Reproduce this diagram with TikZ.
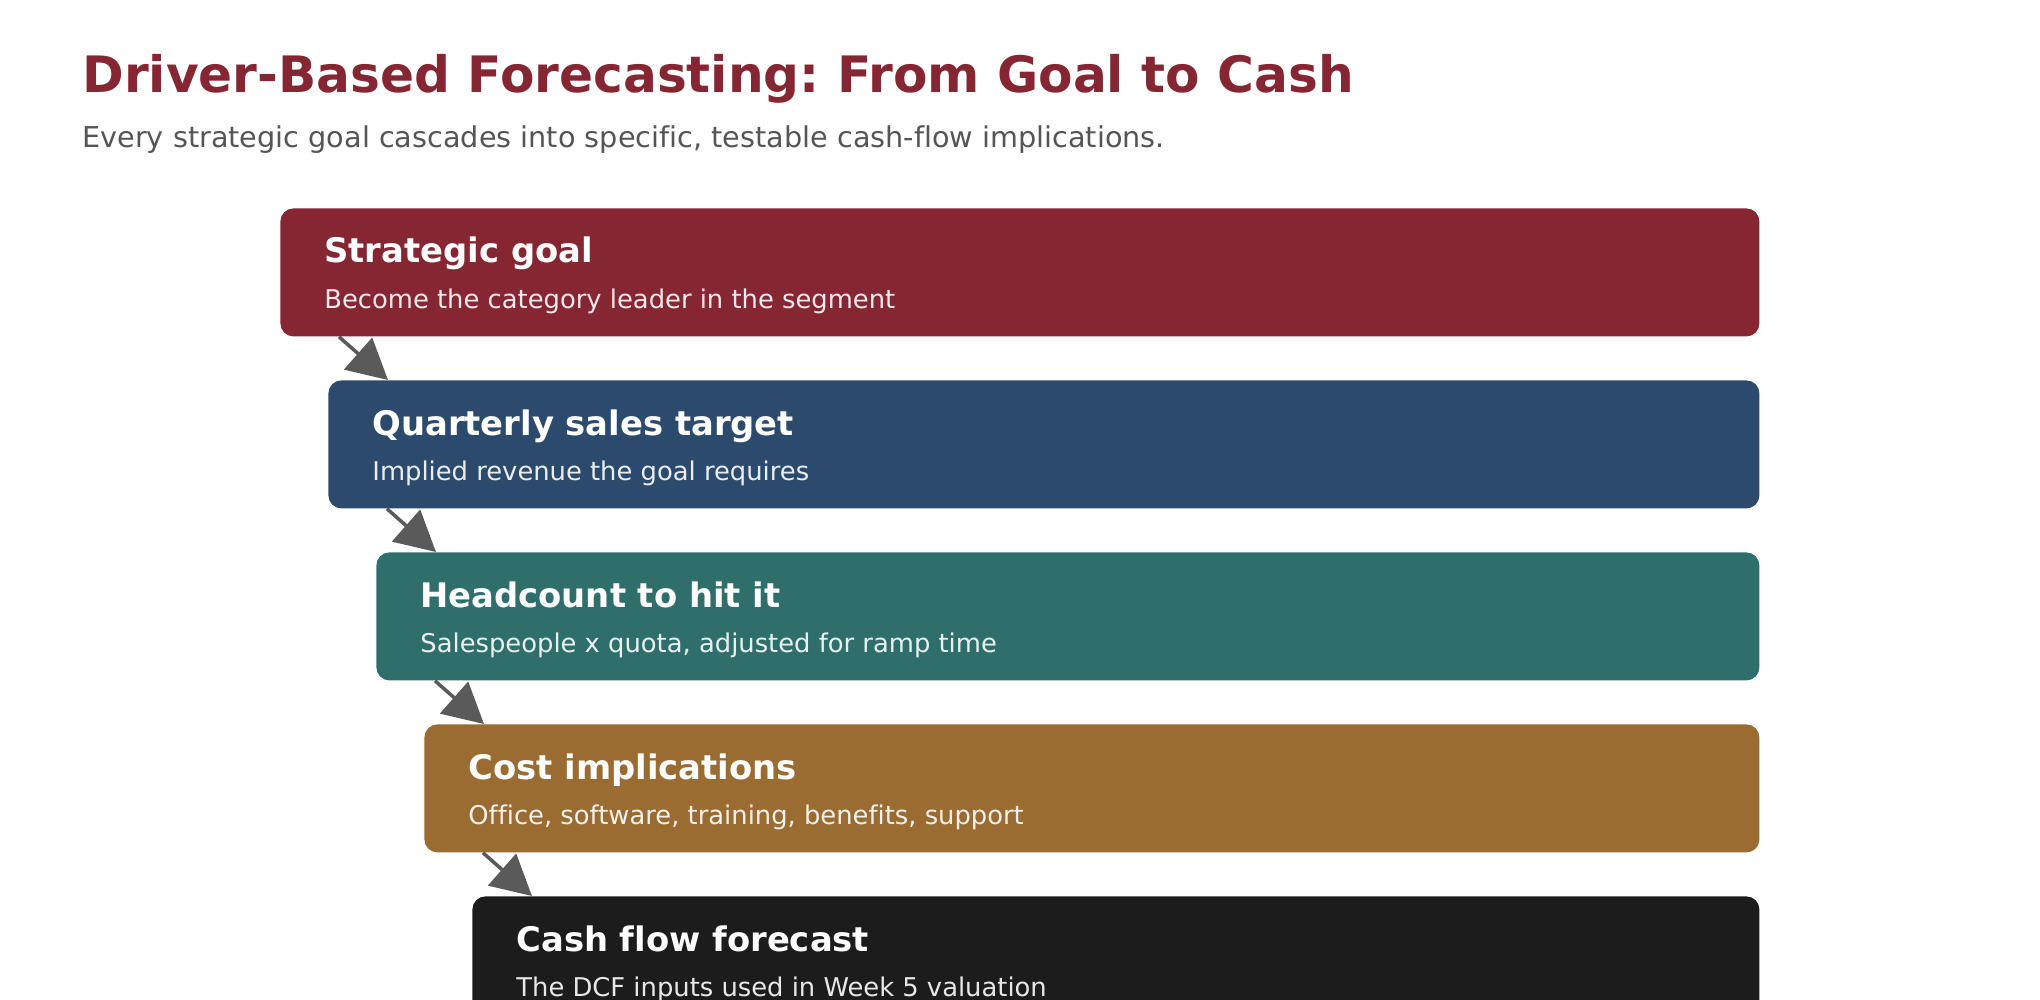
\documentclass[tikz,border=0pt]{standalone}
\usepackage{fontspec}
\setmainfont[Ligatures=NoCommon]{DejaVu Sans}
\usetikzlibrary{arrows.meta,calc}
\definecolor{cred}{HTML}{862633}
\definecolor{cblue}{HTML}{2C4A6B}
\definecolor{cteal}{HTML}{2F6F6B}
\definecolor{cbrown}{HTML}{9A6C31}
\definecolor{cblack}{HTML}{1C1C1C}
\definecolor{csub}{HTML}{555555}
\definecolor{carrow}{HTML}{5A5A5A}
\tikzset{
  stage/.style={rectangle, rounded corners=6.5pt, anchor=north west, minimum height=64pt, inner sep=0pt, draw=none},
  head/.style={anchor=base west, inner sep=0pt, text=white, font=\fontsize{16.9pt}{19pt}\selectfont\bfseries},
  desc/.style={anchor=base west, inner sep=0pt, text=white, text opacity=0.9, font=\fontsize{12.9pt}{15pt}\selectfont},
  flow/.style={draw=carrow, line width=1.75pt, -{Triangle[length=20pt,width=21pt]}, fill=carrow},
}
\frenchspacing
\begin{document}
\begin{tikzpicture}[x=0.5pt,y=-0.5pt]
\useasboundingbox (0,0) rectangle (2040,1000);
\clip (0,0) rectangle (2040,1000);
\node[anchor=base west, inner sep=0pt, text=cred, font=\fontsize{25.1pt}{30pt}\selectfont\bfseries] (title) at (82,93) {Driver-Based Forecasting: From Goal to Cash};
\node[anchor=base west, inner sep=0pt, text=csub, font=\fontsize{14.35pt}{18pt}\selectfont] (subtitle) at (82,148) {Every strategic goal cascades into specific, testable cash-flow implications.};

\node[stage, fill=cred,   minimum width=739.5pt] (b1) at (280,208) {};
\node[stage, fill=cblue,  minimum width=715.5pt] (b2) at (328,380) {};
\node[stage, fill=cteal,  minimum width=691.5pt] (b3) at (376,552) {};
\node[stage, fill=cbrown, minimum width=667.5pt] (b4) at (424,724) {};
\node[stage, fill=cblack, minimum width=643.5pt] (b5) at (472,896) {};

\node[head] (h1) at (324,263) {Strategic goal};
\node[desc] (d1) at (324,308) {Become the category leader in the segment};
\node[head] (h2) at (372,435) {Quarterly sales target};
\node[desc] (d2) at (372,480) {Implied revenue the goal requires};
\node[head] (h3) at (420,607) {Headcount to hit it};
\node[desc] (d3) at (420,652) {Salespeople x quota, adjusted for ramp time};
\node[head] (h4) at (468,779) {Cost implications};
\node[desc] (d4) at (468,824) {Office, software, training, benefits, support};
\node[head] (h5) at (516,951) {Cash flow forecast};
\node[desc] (d5) at (516,996) {The DCF inputs used in Week 5 valuation};

\draw[flow] ($(b1.south west)+(59,0)$) -- ($(b2.north west)+(60,0)$);
\draw[flow] ($(b2.south west)+(59,0)$) -- ($(b3.north west)+(60,0)$);
\draw[flow] ($(b3.south west)+(59,0)$) -- ($(b4.north west)+(60,0)$);
\draw[flow] ($(b4.south west)+(59,0)$) -- ($(b5.north west)+(60,0)$);
\end{tikzpicture}
\end{document}
